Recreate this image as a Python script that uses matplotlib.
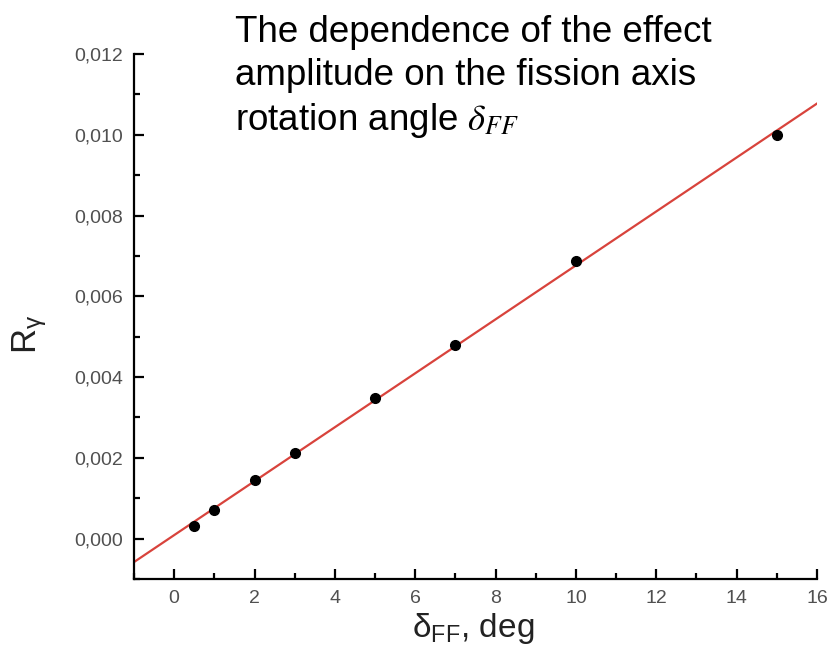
#! /usr/bin/env python3

"""
Dependence of the effect amplitude R_gamma on the fission axis rotation angle.
"""

import numpy as np
import matplotlib
matplotlib.use("Agg")
import matplotlib.pyplot as plt
from matplotlib.ticker import MultipleLocator, FuncFormatter

# angle of rotation, deg
delta_ff = [0.5, 1, 2, 3, 5, 7, 10, 15]
# effect amplitude
r_gamma = [0.00032, 0.00072, 0.00144, 0.00213, 0.00347, 0.0048, 0.00687, 0.0100]
r_gamma_err = [0.00004, 0.00004, 0.00004, 0.00004, 0.00004, 0.00004, 0.00005, 0.00006]

title_lines = [
    "The dependence of the effect",
    "amplitude on the fission axis",
    r"rotation angle $\delta_{FF}$",
]

plt.rcParams["font.family"] = ["Liberation Sans", "DejaVu Sans"]

fig = plt.figure(figsize=(8.28, 6.66), dpi=100)
ax = fig.add_axes([0.1618, 0.1306, 0.8249, 0.7883])

# linear fit through the points
slope, intercept = np.polyfit(delta_ff, r_gamma, 1)
x_line = np.array([-1, 16])
ax.plot(x_line, slope * x_line + intercept, color="#d8433c", lw=1.6, zorder=2)

ax.errorbar(delta_ff, r_gamma, yerr=r_gamma_err, fmt="o", color="black",
            ms=7, capsize=3, elinewidth=1, capthick=1, zorder=3)

ax.set_xlim(-1, 16)
ax.set_ylim(-0.001, 0.012)
ax.xaxis.set_major_locator(MultipleLocator(2))
ax.xaxis.set_minor_locator(MultipleLocator(1))
ax.yaxis.set_major_locator(MultipleLocator(0.002))
ax.yaxis.set_minor_locator(MultipleLocator(0.001))
ax.yaxis.set_major_formatter(FuncFormatter(lambda v, p: f"{v:.3f}".replace(".", ",")))

for side in ["top", "right"]:
    ax.spines[side].set_visible(False)
for side in ["left", "bottom"]:
    ax.spines[side].set_linewidth(1.6)

ax.tick_params(which="both", direction="in", width=1.6, colors="black",
               labelcolor="#505050", labelsize=14, pad=8)
ax.tick_params(which="major", length=7)
ax.tick_params(which="minor", length=4)

fig.text(0.036, 0.498, r"$\mathregular{R_{\gamma}}$", rotation=90, fontsize=25,
         ha="center", va="center", color="#222222")
fig.text(0.571, 0.057, r"$\mathregular{\delta_{FF}}$, deg", fontsize=24,
         ha="center", va="center", color="#222222")

fig.text(0.284, 0.978, "\n".join(title_lines), fontsize=26.5, ha="left", va="top",
         linespacing=1.3, math_fontfamily="stix")

fig.savefig("out.png", dpi=100)
